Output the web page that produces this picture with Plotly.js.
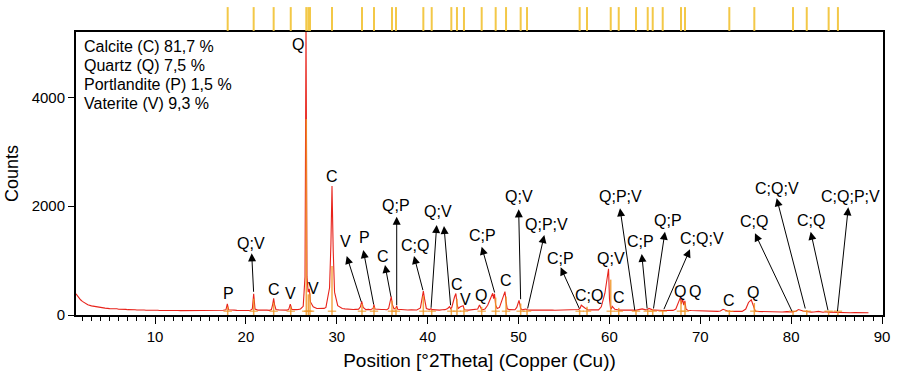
<!DOCTYPE html>
<html><head><meta charset="utf-8">
<script src="https://cdn.plot.ly/plotly-3.0.1.min.js"></script>
<style>html,body{margin:0;padding:0;background:#fff}#chart{width:898px;height:380px}</style>
</head><body><div id="chart"></div>
<script>
const twoTheta = [1.3,1.45,1.6,1.8,2.0,2.3,2.6,3.0,3.5,4.0,4.5,5.0,5.3,5.5,5.8,6.0,6.3,6.5,6.8,7.0,7.3,7.5,7.8,8.0,8.3,8.5,8.8,9.0,9.3,9.5,9.8,10.0,10.3,10.5,10.8,11.0,11.3,11.5,11.8,12.0,12.3,12.5,12.8,13.0,13.3,13.5,13.8,14.0,14.3,14.5,14.8,15.0,15.3,15.5,15.8,16.0,16.3,16.5,16.8,17.0,17.3,17.5,17.8,17.95,18.1,18.4,18.7,19.0,19.3,19.5,19.8,20.0,20.3,20.5,20.7,20.85,21.0,21.3,21.6,21.8,22.1,22.3,22.6,22.8,22.95,23.05,23.15,23.3,23.6,23.8,24.1,24.3,24.5,24.7,24.88,25.05,25.3,25.5,25.8,26.0,26.3,26.5,26.61,26.72,26.85,26.97,27.1,27.4,27.8,28.1,28.3,28.6,28.8,29.2,29.35,29.47,29.6,29.75,30.1,30.4,30.6,30.9,31.2,31.5,31.8,32.1,32.4,32.6,32.74,32.9,33.2,33.5,33.7,34.0,34.09,34.2,34.6,34.9,35.2,35.5,35.7,35.9,35.99,36.1,36.3,36.5,36.59,36.7,37.0,37.2,37.5,37.8,38.2,38.5,38.8,39.2,39.4,39.52,39.65,39.85,40.2,40.36,40.5,40.8,41.0,41.3,41.6,41.9,42.2,42.4,42.53,42.65,42.95,43.1,43.22,43.35,43.6,43.9,44.0,44.1,44.5,44.8,45.2,45.5,45.7,45.92,46.05,46.3,46.6,47.0,47.15,47.25,47.35,47.48,47.65,47.9,48.3,48.5,48.62,48.75,49.0,49.3,49.6,49.8,50.05,50.23,50.4,50.8,50.96,51.2,51.6,52.0,52.4,52.7,53.0,53.4,53.7,54.0,54.3,54.7,55.0,55.4,55.7,56.0,56.3,56.6,56.76,56.9,57.3,57.5,57.65,58.0,58.4,58.8,59.1,59.5,59.9,60.0,60.12,60.2,60.3,60.6,60.9,61.05,61.5,61.9,62.3,62.6,62.85,63.2,63.6,64.0,64.18,64.35,64.6,64.8,65.0,65.3,65.5,65.9,66.3,66.7,67.0,67.3,67.6,67.8,67.92,68.05,68.18,68.3,68.42,68.6,69.0,69.4,69.8,70.2,70.5,70.9,71.2,71.5,71.9,72.2,72.5,73.0,73.19,73.4,73.8,74.2,74.6,75.0,75.3,75.6,75.8,75.92,76.05,76.2,76.6,77.0,77.5,78.0,78.5,79.0,79.5,79.8,80.16,80.5,80.8,81.3,81.62,81.8,82.2,82.5,83.0,83.5,83.8,84.08,84.5,85.07,85.5,86.0,86.5,87.0,87.5,88.0,88.5,89.0,89.5,90.1];
const counts = [390,350,315,280,250,215,190,168,150,136,126,118,121,112,114,106,109,102,104,98,101,95,97,92,95,90,93,88,91,86,90,85,88,83,87,86,82,82,86,81,85,84,80,80,84,79,83,82,78,80,84,81,78,79,84,82,79,83,80,84,82,86,95,205,95,86,89,85,82,84,88,86,83,88,110,390,110,90,93,88,92,90,86,100,200,305,190,102,95,92,96,92,90,100,200,102,96,98,104,110,160,700,5400,700,420,480,240,150,120,124,115,122,140,500,1300,2370,1200,420,170,140,120,112,105,110,100,104,108,150,250,140,100,104,98,120,190,110,98,102,100,96,120,250,340,200,110,130,165,105,98,95,90,92,96,95,92,130,320,440,300,120,100,115,98,92,95,90,96,98,120,155,115,140,330,395,210,120,150,170,115,95,90,95,92,110,185,105,98,110,180,330,400,300,390,180,120,140,350,430,250,115,98,100,96,140,270,120,95,110,95,90,92,88,95,92,95,90,92,88,90,92,88,92,95,100,110,100,120,180,130,98,92,95,90,95,150,400,850,300,130,110,160,105,95,90,92,96,100,90,86,95,112,95,100,120,95,90,92,96,88,84,88,82,85,110,240,320,200,300,180,260,110,88,84,80,76,72,68,72,68,64,66,75,105,72,68,65,70,62,66,110,230,280,190,100,70,66,64,58,60,56,58,54,62,55,58,70,100,72,60,56,52,55,66,50,60,52,48,50,45,47,42,44,40,41,40];

// Reference pattern stick positions and heights
const stickPos = [17.99,20.85,23.05,24.93,26.64,26.86,27.05,29.47,32.77,34.09,36.07,36.51,39.52,40.44,42.6,43.22,43.99,45.94,47.48,48.62,50.23,50.93,56.72,57.53,60.14,61.02,62.92,64.21,64.76,65.86,67.87,68.31,73.19,75.94,80.2,81.71,84.12,85.14];
const stickHeight = [150,300,230,150,3600,380,400,900,200,150,260,140,350,95,120,300,130,150,320,340,210,95,95,150,650,130,85,95,105,80,260,230,90,220,60,90,65,55];

// Peak phase labels
const peakLabels = ['P','C','V','Q','V','C','C','V','Q','C','C;Q','Q;V','C','Q','Q','C','Q',
  'Q;V','V','P','C','Q;P','C;Q','Q;V','C;P','Q;V','Q;P;V','C;P','Q;P;V','C;P','Q;P','C;Q;V','C;Q','C;Q;V','C;Q','C;Q;P;V'];
const labelX = [18.03,23.05,24.88,25.73,27.41,29.44,43.26,44.21,45.9,48.62,57.75,60.14,61.05,67.76,69.41,73.19,75.83,
  20.56,30.9,33.1,35.05,36.51,38.6,41.17,46.05,50.01,53.09,54.56,61.16,63.44,66.47,70.15,75.9,78.4,82.14,86.47];
const labelY = [386,472,386,4978,490,2541,564,276,367,625,355,1042,318,428,428,263,410,
  1323,1359,1427,1071,2021,1273,1898,1457,2173,1672,1042,2173,1347,1745,1409,1714,2327,1745,2173];

// Arrows: from peak (tail) to label (head)
const arrowHeadX = [20.63,31.09,32.91,35.30,36.59,38.49,40.99,41.79,45.94,50.01,52.83,54.63,61.16,63.55,66.11,68.86,76.01,78.40,82.14,86.28];
const arrowHeadY = [1133,1084,1194,919,1806,1084,1653,1635,1255,1942,1470,876,1960,1121,1530,1207,1501,2144,1530,1978];
const arrowTailX = [20.85,32.74,34.09,35.99,36.59,39.52,40.36,42.53,47.41,50.23,50.96,56.76,62.81,64.16,64.82,65.92,80.16,81.59,84.08,85.07];
const arrowTailY = [399,215,165,307,152,428,105,152,386,263,92,92,61,92,92,79,42,92,61,42];

const phaseLegend = ['Calcite (C) 81,7 %','Quartz (Q) 7,5 %','Portlandite (P) 1,5 %','Vaterite (V) 9,3 %'];

const FONT = '"Liberation Sans", Arial, sans-serif';
const ORANGE = 'rgba(240,150,40,0.85)';

// stick traces
const sx = [], sy = [];
stickPos.forEach((p,i)=>{ sx.push(p,p,null); sy.push(0,stickHeight[i],null); });

const traces = [
  {x: twoTheta, y: counts, type:'scatter', mode:'lines', line:{color:'#e8231b', width:1.1}, hoverinfo:'skip'},
  {x: sx, y: sy, type:'scatter', mode:'lines', line:{color:ORANGE, width:1.5}, hoverinfo:'skip'},
  {x: stickPos, y: stickPos.map(()=>70), type:'scatter', mode:'markers',
   marker:{symbol:'line-ew-open', size:6, color:ORANGE, line:{color:ORANGE, width:1.2}}, hoverinfo:'skip'}
];

const annotations = [];
peakLabels.forEach((t,i)=>annotations.push({x:labelX[i], y:labelY[i], xref:'x', yref:'y', text:t, showarrow:false,
  xanchor:'center', yanchor:'middle', font:{family:FONT, size:16, color:'#000'}}));
arrowHeadX.forEach((hx,i)=>annotations.push({x:hx, y:arrowHeadY[i], xref:'x', yref:'y', ax:arrowTailX[i], ay:arrowTailY[i],
  axref:'x', ayref:'y', text:'', showarrow:true, arrowhead:2, arrowsize:1.6, arrowwidth:1, arrowcolor:'#000', standoff:0, startstandoff:0}));
const legY = [46,65,84,103];
phaseLegend.forEach((t,i)=>annotations.push({x:(82-76)/807, y:(315-legY[i])/283, xref:'paper', yref:'paper', text:t,
  showarrow:false, xanchor:'left', yanchor:'middle', font:{family:FONT, size:16, color:'#000'}}));

// top reference marks
const shapes = stickPos.map(p=>({type:'line', xref:'x', yref:'paper', x0:p, x1:p, y0:1.004, y1:1.088,
  line:{color:'#f3c847', width:2}}));

const layout = {
  width:898, height:380,
  margin:{l:76, r:15, t:32, b:65},
  paper_bgcolor:'#fff', plot_bgcolor:'#fff',
  showlegend:false,
  font:{family:FONT, color:'#000'},
  xaxis:{range:[1.3,90.1], tick0:0, dtick:10, ticks:'outside', ticklen:7, tickwidth:1, tickcolor:'#000',
    minor:{dtick:1, ticks:'outside', ticklen:4, tickcolor:'#000', tickwidth:1},
    showline:true, mirror:true, linewidth:2, linecolor:'#000', showgrid:false, zeroline:false,
    tickfont:{family:FONT, size:15, color:'#000'},
    title:{text:'Position [°2Theta] (Copper (Cu))', font:{family:FONT, size:19, color:'#000'}, standoff:10}},
  yaxis:{range:[0,5200], tickvals:[0,2000,4000], ticks:'outside', ticklen:6, tickwidth:1, tickcolor:'#000',
    showline:true, mirror:true, linewidth:2, linecolor:'#000', showgrid:false, zeroline:false,
    tickfont:{family:FONT, size:15, color:'#000'},
    title:{text:'Counts', font:{family:FONT, size:18, color:'#000'}, standoff:8}},
  annotations, shapes
};
Plotly.newPlot('chart', traces, layout, {displayModeBar:false, staticPlot:true});
</script></body></html>
